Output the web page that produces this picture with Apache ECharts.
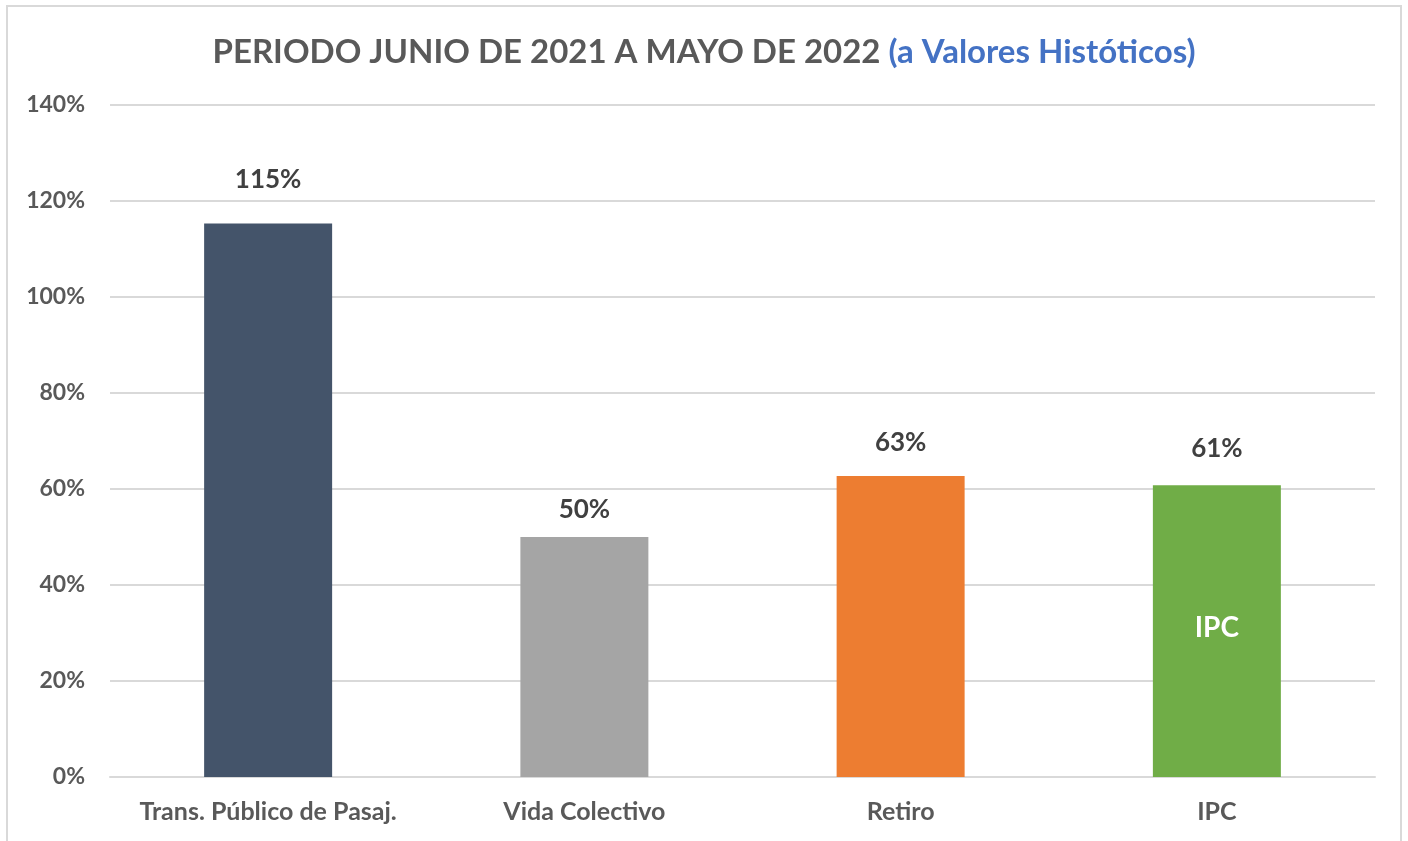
<!DOCTYPE html>
<html><head><meta charset="utf-8">
<script src="https://cdn.jsdelivr.net/npm/echarts@6/dist/echarts.min.js"></script>
<style>html,body{margin:0;padding:0;background:#fff}#wrap{position:absolute;left:6px;top:5px;width:1396px;height:850px;border:2px solid #d9d9d9;box-sizing:border-box}#c{position:absolute;left:0;top:0;width:1408px;height:841px}</style>
</head><body>
<div id="wrap"></div>
<div id="c"></div>
<script>
const categories = ['Trans. Público de Pasaj.', 'Vida Colectivo', 'Retiro', 'IPC'];
const values = [115.3, 50.0, 62.7, 60.8];
const valueLabels = ['115%', '50%', '63%', '61%'];
const barColors = ['#44546A', '#A5A5A5', '#ED7D31', '#70AD47'];
const yTicks = [0, 20, 40, 60, 80, 100, 120, 140];

const FONT = 'Lato';
const gaps = [31, 14, 20, 24];
const chart = echarts.init(document.getElementById('c'), null, {renderer: 'canvas'});
chart.setOption({
  animation: false,
  title: {
    text: '{a|PERIODO JUNIO DE 2021 A MAYO DE 2022 }{b|(a Valores Históticos)}',
    left: 'center', top: 31,
    textStyle: { rich: {
      a: {fontFamily: FONT, fontWeight: 'bold', fontSize: 33, color: '#595959'},
      b: {fontFamily: FONT, fontWeight: 'bold', fontSize: 33, color: '#4472C4'}
    }}
  },
  grid: {left: 110, right: 33, top: 105, bottom: 64, containLabel: false},
  xAxis: {
    type: 'category', data: categories,
    axisLine: {show: true, lineStyle: {color: '#d9d9d9', width: 2}},
    axisTick: {show: false},
    axisLabel: {interval: 0, hideOverlap: false, fontFamily: FONT, fontWeight: 'bold', fontSize: 25, color: '#595959', margin: 22}
  },
  yAxis: {
    type: 'value', min: 0, max: 140, interval: 20,
    axisLine: {show: false}, axisTick: {show: false},
    splitLine: {lineStyle: {color: '#d9d9d9', width: 2}},
    axisLabel: {fontFamily: FONT, fontWeight: 'bold', fontSize: 23, color: '#595959', margin: 25,
      formatter: v => yTicks.includes(v) ? v + '%' : ''}
  },
  series: [{
    type: 'bar', barWidth: 128,
    data: values.map((v, i) => ({
      value: v,
      itemStyle: {color: barColors[i]},
      label: {show: true, position: 'top', distance: gaps[i], formatter: valueLabels[i],
        fontFamily: FONT, fontWeight: 'bold', fontSize: 26, color: '#404040'}
    })),
    markPoint: {
      symbol: 'rect', symbolSize: 1, itemStyle: {color: 'rgba(0,0,0,0)'},
      label: {show: true, formatter: categories[3], fontFamily: FONT, fontWeight: 'bold', fontSize: 28, color: '#ffffff', position: 'inside'},
      data: [{coord: [categories[3], 31]}]
    }
  }]
});
</script>
</body></html>
